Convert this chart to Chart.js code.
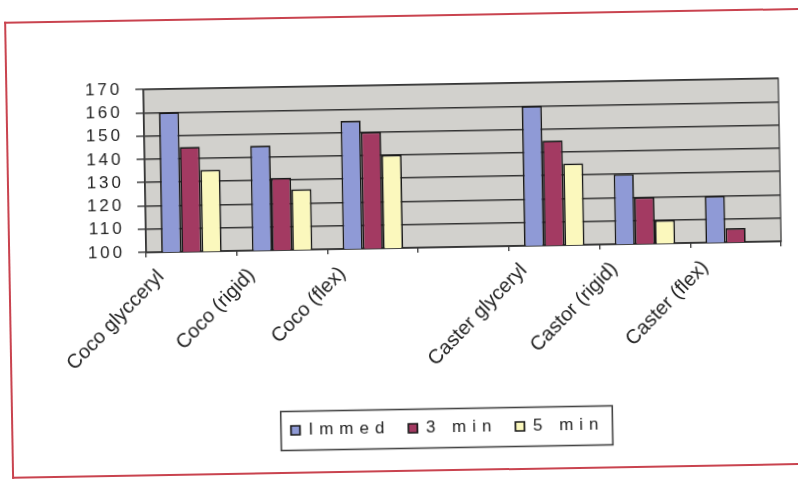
<!DOCTYPE html>
<html>
<head>
<meta charset="utf-8">
<script src="https://cdn.jsdelivr.net/npm/chart.js@4"></script>
<style>
  html, body { margin: 0; padding: 0; background: #fff; overflow: hidden; }
  #page { position: relative; width: 798px; height: 479px; transform: rotate(-1deg); transform-origin: 399px 240px; }
  #frame { position: absolute; left: 8px; top: 15px; width: 830px; height: 457px; border: 2.5px solid #c9434f; border-right: none; box-sizing: border-box; }
  #chart { position: absolute; left: 0; top: 0; }
</style>
</head>
<body>
<div id="page">
  <div id="frame"></div>
  <canvas id="chart" width="798" height="479"></canvas>
</div>
<script>
// ---- data ---------------------------------------------------------------
const categories = ["Coco glycceryl", "Coco (rigid)", "Coco (flex)", "", "Caster glyceryl", "Castor (rigid)", "Caster (flex)"];
const seriesNames = ["Immed", "3 min", "5 min"];
const immed = [160, 145, 155, null, 160, 130, 120];
const min3 = [145, 131, 150, null, 145, 120, 106];
const min5 = [135, 126, 140, null, 135, 110, null];
const yTickValues = [100, 110, 120, 130, 140, 150, 160, 170];

const fills = ["#8f9ad6", "#a33a62", "#fbf8bd"];
const font = "'Liberation Sans', Arial, sans-serif";
const legendShift = 54;

// plot background, plot border, spaced text for the y ticks and legend
const plotFrame = {
  id: "plotFrame",
  beforeLayout(chart) { chart.ctx.letterSpacing = "6px"; },
  afterLayout(chart) {
    chart.ctx.letterSpacing = "0px";
    const lg = chart.legend;
    // legend sits right of centre, under the plot
    lg.left += legendShift;
    lg.right += legendShift;
    if (!lg._spaced) {
      const draw = lg.draw.bind(lg);
      lg.draw = (area) => {
        const c = chart.ctx;
        const prev = c.letterSpacing;
        c.letterSpacing = "6px";
        draw(area);
        c.letterSpacing = prev;
      };
      lg._spaced = true;
    }
  },
  beforeDraw(chart) {
    const { ctx, chartArea: a } = chart;
    ctx.save();
    ctx.fillStyle = "#d2d1cd";
    ctx.fillRect(a.left, a.top, a.width, a.height);
    ctx.strokeStyle = "#555";
    ctx.lineWidth = 1.5;
    ctx.strokeRect(a.left, a.top, a.width, a.height);
    ctx.restore();
    ctx.letterSpacing = "3px";
  },
  afterDatasetsDraw(chart) { chart.ctx.letterSpacing = "0px"; },
  afterDraw(chart) {
    const boxes = chart.legend.legendHitBoxes;
    if (!boxes || !boxes.length) return;
    const left = Math.min(...boxes.map((b) => b.left));
    const right = Math.max(...boxes.map((b) => b.left + b.width));
    const mid = boxes[0].top + boxes[0].height / 2;
    const ctx = chart.ctx;
    ctx.save();
    ctx.strokeStyle = "#444";
    ctx.lineWidth = 1.6;
    ctx.strokeRect(left - 10, mid - 19, right - left + 18, 39);
    ctx.restore();
  }
};

const datasets = [immed, min3, min5].map((values, i) => ({
  label: seriesNames[i],
  data: values,
  backgroundColor: fills[i],
  borderColor: "#1a1a1a",
  borderWidth: 1.7,
  borderSkipped: false,
  barPercentage: 1,
  categoryPercentage: 0.667
}));

new Chart(document.getElementById("chart"), {
  type: "bar",
  data: { labels: categories, datasets },
  plugins: [plotFrame],
  options: {
    responsive: false,
    animation: false,
    layout: { padding: { left: 0, right: 17, top: 85, bottom: 32 } },
    scales: {
      x: {
        afterFit: (s) => { s.height = 154; },
        grid: { display: true, offset: true, drawOnChartArea: false, drawTicks: true, tickLength: 5, color: "#333", lineWidth: 1.3 },
        border: { display: true, color: "#333", width: 1.5 },
        ticks: {
          z: 1,
          autoSkip: false,
          minRotation: 45,
          maxRotation: 45,
          labelOffset: -31,
          padding: 8,
          color: "#222",
          font: { family: font, size: 20 }
        }
      },
      y: {
        min: yTickValues[0],
        max: yTickValues[yTickValues.length - 1],
        afterFit: (s) => { s.width = 146; },
        afterBuildTicks: (s) => { s.ticks = yTickValues.map((v) => ({ value: v })); },
        grid: { color: "#333", lineWidth: 1.4, tickLength: 8 },
        border: { display: true, color: "#333", width: 1.5 },
        ticks: { autoSkip: false, padding: 13, color: "#222", font: { family: font, size: 17 } }
      }
    },
    plugins: {
      legend: {
        position: "bottom",
        labels: {
          boxWidth: 9,
          boxHeight: 9,
          padding: 18,
          color: "#222",
          font: { family: font, size: 17 }
        }
      },
      tooltip: { enabled: false }
    }
  }
});
</script>
</body>
</html>
